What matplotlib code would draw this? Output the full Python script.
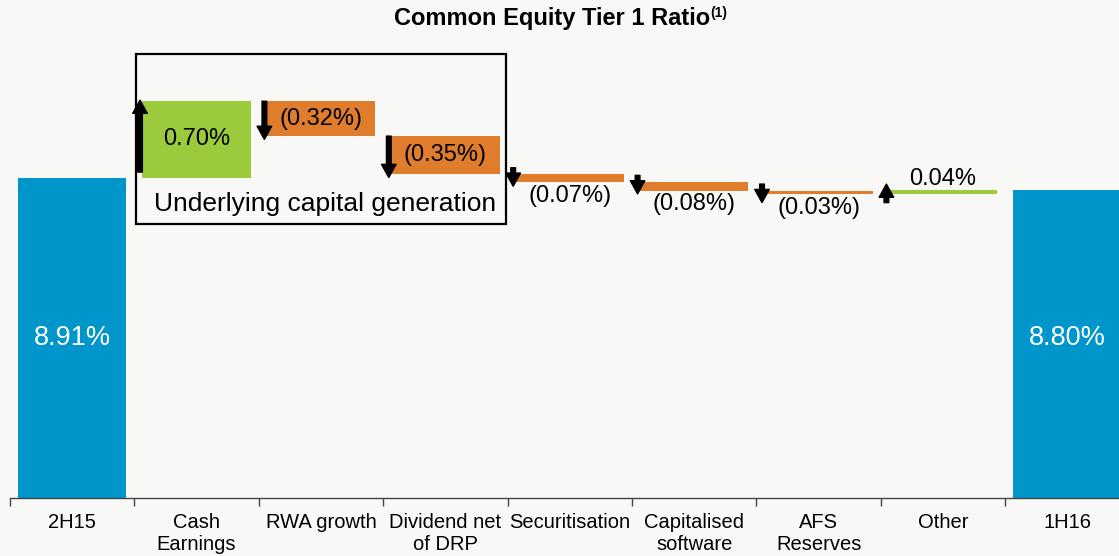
import matplotlib
matplotlib.use("Agg")
import matplotlib.pyplot as plt
from matplotlib.patches import Rectangle

plt.rcParams['font.family'] = ['Liberation Sans', 'DejaVu Sans']

# ---- data ----
categories = ["2H15", "Cash\nEarnings", "RWA growth", "Dividend net\nof DRP", "Securitisation",
              "Capitalised\nsoftware", "AFS\nReserves", "Other", "1H16"]
start_value = 8.91
deltas = [0.70, -0.32, -0.35, -0.07, -0.08, -0.03, 0.04]
end_value = 8.80
delta_labels = ["0.70%", "(0.32%)", "(0.35%)", "(0.07%)", "(0.08%)", "(0.03%)", "0.04%"]
total_labels = ["8.91%", "8.80%"]
title = "Common Equity Tier 1 Ratio"
box_label = "Underlying capital generation"

BLUE = "#0095CB"
GREEN = "#9BCB3C"
ORANGE = "#E07D2C"
BG = "#F8F8F7"

W, H = 1119, 556
fig = plt.figure(figsize=(W / 100, H / 100), dpi=100, facecolor=BG)
ax_left_px, ax_bottom_px, ax_top_px = 10.0, 498.0, 40.0
slot = 124.4
ax = fig.add_axes([ax_left_px / W, 1 - ax_bottom_px / H, 9 * slot / W, (ax_bottom_px - ax_top_px) / H])
ax.set_facecolor(BG)
ymin = 5.97
px_per_unit = 109.0
ax.set_ylim(ymin, ymin + (ax_bottom_px - ax_top_px) / px_per_unit)
ax.set_xlim(-0.5, 8.5)

bw = 0.87
# totals
ax.bar([0, 8], [start_value - ymin, end_value - ymin], bottom=ymin, width=bw, color=BLUE, zorder=2)

level = start_value
arrow_x_off = -bw / 2 - 0.02
for i, d in enumerate(deltas):
    x = i + 1
    lo, hi = min(level, level + d), max(level, level + d)
    big = abs(d) > 0.2
    ax.bar(x, hi - lo, bottom=lo, width=bw, color=GREEN if d > 0 else ORANGE, zorder=2)
    # arrows
    ax_x = x + arrow_x_off
    if big:
        if d > 0:
            y0, y1 = lo + 0.05, hi + 0.01
        else:
            y0, y1 = hi, lo - 0.03
    else:
        if d > 0:
            y0, y1 = lo - 0.08, hi + 0.05
        else:
            y0, y1 = hi + 0.06, hi - 0.11
    ax.annotate("", xy=(ax_x, y1), xytext=(ax_x, y0),
                arrowprops=dict(facecolor="black", edgecolor="black", width=3.4,
                                headwidth=10.5, headlength=9.5, shrink=0),
                zorder=5, annotation_clip=False)
    # labels
    if big:
        ax.text(x, (lo + hi) / 2, delta_labels[i], ha="center", va="center",
                fontsize=17, color="black", zorder=6)
    elif d < 0:
        ax.annotate(delta_labels[i], xy=(x, lo), xytext=(0, -2), textcoords="offset points",
                    ha="center", va="top", fontsize=17, color="black", zorder=6)
    else:
        ax.annotate(delta_labels[i], xy=(x, hi), xytext=(0, 0), textcoords="offset points",
                    ha="center", va="bottom", fontsize=17, color="black", zorder=6)
    level += d

label_y = ymin + (ax_bottom_px - 338) / px_per_unit
for x, lab in zip([0, 8], total_labels):
    ax.text(x, label_y, lab, ha="center", va="center", fontsize=19.5, color="white", zorder=6)

# box around underlying capital generation
bx0 = (136 - ax_left_px) / slot - 0.5
bx1 = (506 - ax_left_px) / slot - 0.5
by0 = ymin + (ax_bottom_px - 224) / px_per_unit
by1 = ymin + (ax_bottom_px - 54) / px_per_unit
ax.add_patch(Rectangle((bx0, by0), bx1 - bx0, by1 - by0, fill=False, edgecolor="black",
                       linewidth=1.6, zorder=4, clip_on=False))
ax.text((bx0 + bx1) / 2 + 0.03, by0 + 0.18, box_label, ha="center", va="center", fontsize=19,
        color="black", zorder=6)

# axes styling
for s in ["top", "right", "left"]:
    ax.spines[s].set_visible(False)
ax.spines["bottom"].set_color("#444444")
ax.spines["bottom"].set_linewidth(1.0)
ax.set_yticks([])
ax.set_xticks([i - 0.5 for i in range(10)], minor=False)
ax.set_xticklabels([])
ax.tick_params(axis="x", which="major", direction="out", length=6, color="#444444", width=1.0)
ax.set_xticks(range(9), minor=True)
ax.set_xticklabels(categories, minor=True, fontsize=14.5, linespacing=1.15)
ax.tick_params(axis="x", which="minor", length=0, pad=11)

# title with superscript
t = fig.text(0.493, 1 - 18 / H, title, ha="center", va="center", fontsize=17, fontweight="bold")
fig.canvas.draw()
bb = t.get_window_extent()
fig.text((bb.x1 + 1) / W, (bb.y1 + 1) / H, "(1)", ha="left", va="top", fontsize=10, fontweight="bold")

fig.savefig("out.png", dpi=100, facecolor=BG)
